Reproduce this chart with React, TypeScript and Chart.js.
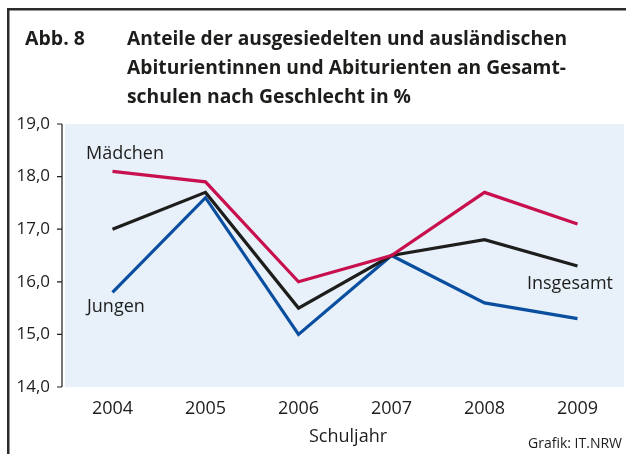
import React, { useEffect, useRef } from "react";
import { Chart, registerables } from "chart.js";

Chart.register(...registerables);

const years = ["2004", "2005", "2006", "2007", "2008", "2009"];
const maedchen = [18.1, 17.9, 16.0, 16.5, 17.7, 17.1];
const insgesamt = [17.0, 17.7, 15.5, 16.5, 16.8, 16.3];
const jungen = [15.8, 17.6, 15.0, 16.5, 15.6, 15.3];
const yTicks = [14, 15, 16, 17, 18, 19];
const titleLines = [
  "Anteile der ausgesiedelten und ausländischen",
  "Abiturientinnen und Abiturienten an Gesamt-",
  "schulen nach Geschlecht in %",
];

const TEXT = "#1d1d1b";
const FONT = "'Open Sans', 'Noto Sans', sans-serif";

const decor = {
  id: "decor",
  beforeDraw(chart: any) {
    const ctx = chart.ctx;
    const a = chart.chartArea;
    ctx.save();
    // frame
    ctx.fillStyle = "#2b2b2b";
    ctx.fillRect(7, 8, 620, 2.5);
    ctx.fillRect(7, 8, 2.5, 446);
    // plot background
    ctx.fillStyle = "#e8f0fa";
    ctx.fillRect(a.left - 1, a.top, a.right - a.left + 1, a.bottom - a.top);
    // y axis line and ticks
    const y = chart.scales.y;
    ctx.strokeStyle = "#1d1d1b";
    ctx.lineWidth = 1.2;
    ctx.beginPath();
    ctx.moveTo(a.left - 4, y.getPixelForValue(19));
    ctx.lineTo(a.left - 4, y.getPixelForValue(14));
    for (const t of yTicks) {
      const py = y.getPixelForValue(t);
      ctx.moveTo(a.left - 9, py);
      ctx.lineTo(a.left - 4, py);
    }
    ctx.stroke();
    ctx.restore();
  },
  afterDraw(chart: any) {
    const ctx = chart.ctx;
    ctx.save();
    ctx.fillStyle = TEXT;
    ctx.textBaseline = "alphabetic";
    ctx.textAlign = "left";
    ctx.font = `bold 19.5px ${FONT}`;
    ctx.fillText("Abb. 8", 25, 45, 64);
    const baselines = [45, 74, 103];
    const widths = [440, 439, 284];
    titleLines.forEach((t, i) => ctx.fillText(t, 127, baselines[i], widths[i]));
    ctx.font = `18px ${FONT}`;
    ctx.fillText("Mädchen", 86, 159, 80);
    ctx.fillText("Jungen", 87, 312, 62);
    ctx.fillText("Insgesamt", 527, 289, 86);
    ctx.textAlign = "center";
    ctx.fillText("Schuljahr", 348, 442);
    ctx.textAlign = "right";
    ctx.font = `14px ${FONT}`;
    ctx.fillText("Grafik: IT.NRW", 622, 448);
    ctx.restore();
  },
};

export default function App() {
  const ref = useRef<HTMLCanvasElement | null>(null);
  useEffect(() => {
    document.body.style.margin = "0";
    const chart = new Chart(ref.current as HTMLCanvasElement, {
      type: "line",
      data: {
        labels: years,
        datasets: [
          { label: "Mädchen", data: maedchen, borderColor: "#c8104e" },
          { label: "Insgesamt", data: insgesamt, borderColor: "#1d1d1b" },
          { label: "Jungen", data: jungen, borderColor: "#0a4f9f" },
        ].map((d) => ({
          ...d,
          borderWidth: 3.2,
          pointRadius: 0,
          tension: 0,
          fill: false,
          borderJoinStyle: "miter" as const,
        })),
      },
      options: {
        animation: false,
        responsive: false,
        devicePixelRatio: 1,
        layout: { padding: { left: 0, top: 124, right: 2, bottom: 0 } },
        plugins: { legend: { display: false }, tooltip: { enabled: false }, title: { display: false } },
        scales: {
          x: {
            offset: true,
            grid: { display: false, drawTicks: false },
            border: { display: false },
            ticks: { color: TEXT, font: { family: FONT, size: 18 }, padding: 11 },
            afterFit: (s: any) => {
              s.height = 67;
            },
          },
          y: {
            min: 14,
            max: 19,
            grid: { display: false, drawTicks: false },
            border: { display: false },
            ticks: {
              stepSize: 1,
              color: TEXT,
              font: { family: FONT, size: 17 },
              padding: 16,
              callback: (v: any) => Number(v).toFixed(1).replace(".", ","),
            },
            afterFit: (s: any) => {
              s.width = 66;
            },
          },
        },
      },
      plugins: [decor],
    });
    return () => chart.destroy();
  }, []);
  return (
    <div style={{ position: "absolute", left: 0, top: 0, width: 626, height: 454 }}>
      <canvas ref={ref} width={626} height={454} />
    </div>
  );
}
